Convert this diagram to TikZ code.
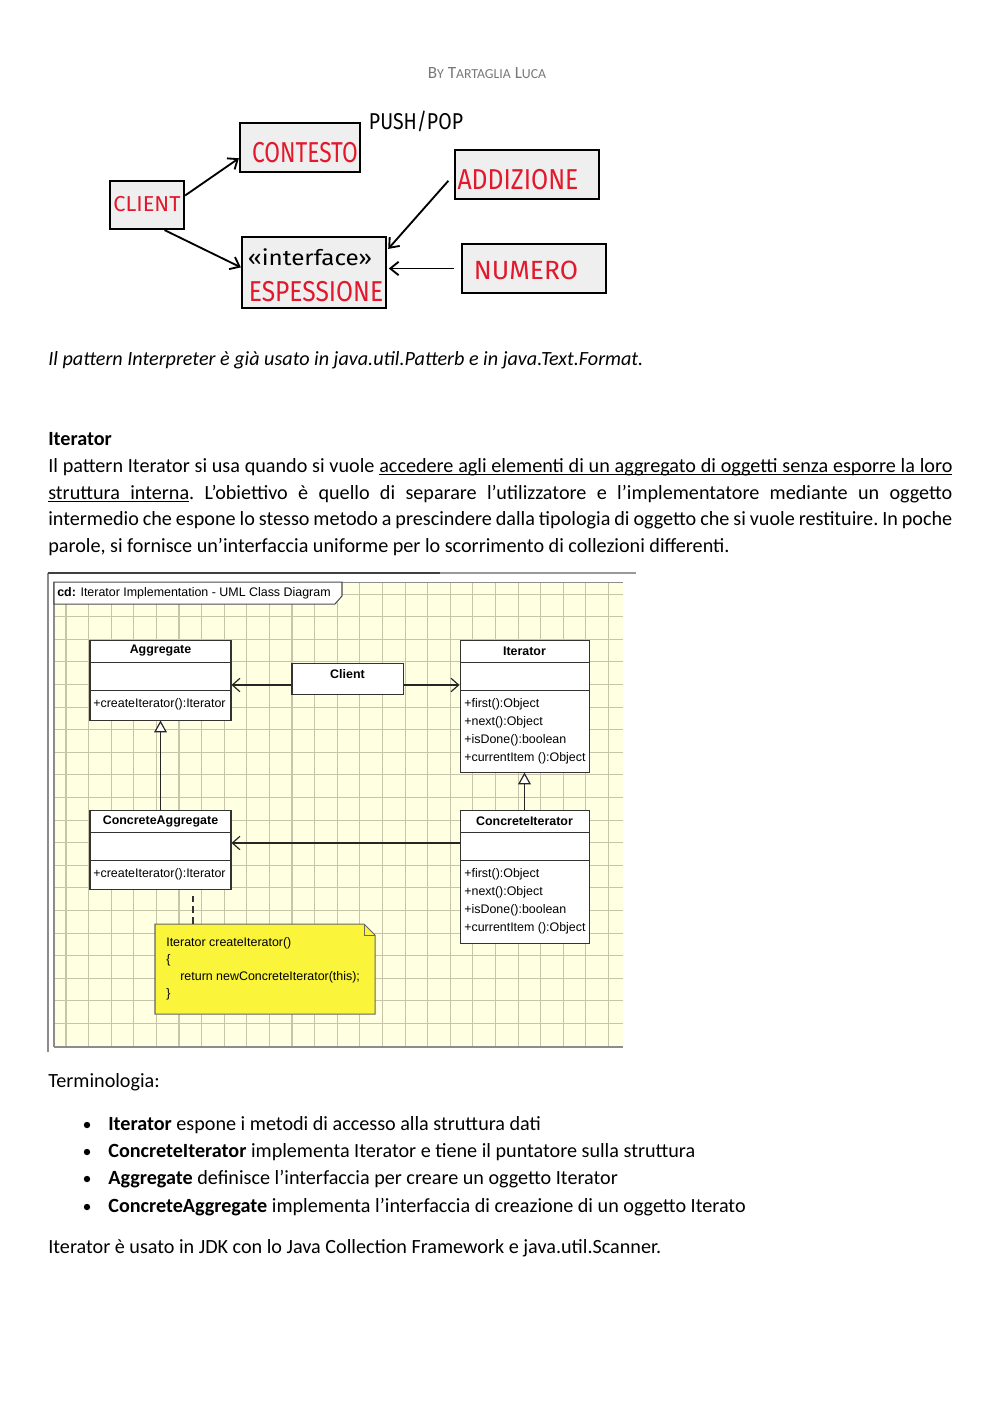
\documentclass[tikz,border=0pt]{standalone}
\usepackage{fontspec}
\setmainfont{Carlito}
\newfontfamily\umlfont{Liberation Sans}
\newfontfamily\handfont{Fira Sans}
\usetikzlibrary{arrows.meta,fit}
\definecolor{handred}{RGB}{226,24,44}
\definecolor{handfill}{RGB}{239,239,239}
\definecolor{headgray}{RGB}{120,120,120}
\definecolor{gridbg}{RGB}{255,255,226}
\definecolor{gridln}{RGB}{200,196,170}
\definecolor{noteyel}{RGB}{250,244,58}
\newcommand\myfsc[2]{{\fontsize{10.2}{11}\selectfont #1}{\fontsize{8.2}{9}\selectfont #2}}
\newsavebox\myulbox
\newcommand\ulw[1]{\sbox\myulbox{#1}\rlap{\vrule height -1.4pt depth 2.0pt width \wd\myulbox}\usebox\myulbox}
\newcommand\uls{\leaders\vrule height -1.4pt depth 2.0pt\hskip\fontdimen2\font plus\fontdimen3\font minus\fontdimen4\font\relax}
\tikzset{
  handbox/.style={draw=black, line width=1.3pt, fill=handfill, inner sep=0pt},
  handarrow/.style={line width=1.1pt, -{Straight Barb[length=5pt,width=8pt,line width=1.1pt]}},
  handtxt/.style={inner sep=0pt, font=\handfont, text=handred},
  bodytext/.style={inner sep=0pt, anchor=base west, font=\fontsize{12}{14}\selectfont\frenchspacing},
  umlbox/.style={draw=black!80, line width=0.6pt, fill=white, inner sep=0pt},
  umlline/.style={draw=black!80, line width=0.6pt},
  umlname/.style={inner sep=0pt, font=\umlfont\bfseries\fontsize{7.4}{8}\selectfont},
  umlmem/.style={inner sep=0pt, anchor=west, font=\umlfont\fontsize{7.4}{8}\selectfont},
  navarrow/.style={line width=0.7pt, draw=black!85, -{Straight Barb[length=4.5pt,width=8pt,line width=0.7pt]}},
  genarrow/.style={line width=0.7pt, draw=black!85, -{Triangle[open,length=7pt,width=7.5pt,line width=0.7pt,fill=white]}},
  gridline/.style={draw=gridln, line width=0.6pt},
}
\begin{document}
\begin{tikzpicture}[x=0.5953pt,y=-0.5953pt]
\useasboundingbox[fill=white] (0,0) rectangle (1000,1414);

% header
\node[inner sep=0pt, anchor=base, text=headgray, font=\fontsize{10.2}{11}\selectfont] (hdr) at (487,78) {\myfsc{B}{Y} \myfsc{T}{ARTAGLIA} \myfsc{L}{UCA}};

% ---------- hand-drawn diagram ----------
\node[handbox, fit={(110,181)(184,229)}] (hclient) {};
\node[handbox, fit={(240,123)(360,172)}] (hcont) {};
\node[handbox, fit={(455,150)(599,199)}] (hadd) {};
\node[handbox, fit={(242,237)(386,308)}] (hesp) {};
\node[handbox, fit={(462,244)(606,293)}] (hnum) {};

\node[handtxt] (tclient) at (147,204) {\resizebox{40pt}{9pt}{CLIENT}};
\node[handtxt] (tcont) at (305,153) {\resizebox{63pt}{12pt}{CONTESTO}};
\node[handtxt] (tadd) at (518,180) {\resizebox{72pt}{12pt}{ADDIZIONE}};
\node[handtxt] (tnum) at (526,270) {\resizebox{62pt}{11pt}{NUMERO}};
\node[handtxt] (tesp) at (316,292) {\resizebox{80pt}{12pt}{ESPESSIONE}};
\node[handtxt, text=black] (tint) at (310,257) {\resizebox{74pt}{10pt}{«interface»}};
\node[handtxt, text=black] (tpush) at (416,121) {\resizebox{56pt}{11pt}{PUSH/POP}};

\draw[handarrow] (hclient.14) -- (hcont.190);
\draw[handarrow] (hclient.-55) -- (hesp.176);
\draw[handarrow, shorten <=5pt, shorten >=1pt] (hadd.west) -- (hesp.17);
\draw[handarrow, shorten <=4pt, shorten >=1pt] (hnum.west) -- (hnum.west -| hesp.east);

% ---------- text ----------
\node[bodytext, font=\itshape\fontsize{12}{14}\selectfont] (interp) at (48,365) {Il pattern Interpreter è già usato in java.util.Patterb e in java.Text.Format.};
\node[bodytext, font=\bfseries\fontsize{12}{14}\selectfont] (ittitle) at (48,445) {Iterator};
\node[bodytext] (p1) at (48,472) {\hbox to 538.2pt{Il pattern Iterator si usa quando si vuole \ulw{accedere}\uls\ulw{agli}\uls\ulw{elementi}\uls\ulw{di}\uls\ulw{un}\uls\ulw{aggregato}\uls\ulw{di}\uls\ulw{oggetti}\uls\ulw{senza}\uls\ulw{esporre}\uls\ulw{la}\uls\ulw{loro}}};
\node[bodytext] (p2) at (48,499) {\hbox to 538.2pt{\ulw{struttura}\uls\ulw{interna}. L’obiettivo è quello di separare l’utilizzatore e l’implementatore mediante un oggetto}};
\node[bodytext] (p3) at (48,525) {\hbox to 538.2pt{intermedio che espone lo stesso metodo a prescindere dalla tipologia di oggetto che si vuole restituire. In poche}};
\node[bodytext] (p4) at (48,552) {parole, si fornisce un’interfaccia uniforme per lo scorrimento di collezioni differenti.};

% ---------- UML image ----------
\fill[gridbg] (54,582) rectangle (623,1047);
\foreach \i in {0,...,24} \draw[gridline] ({66+22.6*\i},582) -- ({66+22.6*\i},1047);
\foreach \j in {0,...,20} \draw[gridline] (54,{594+22.6*\j}) -- (623,{594+22.6*\j});
\draw[black!45, line width=0.6pt] (54,1047) -- (54,582) -- (623,582);
\draw[black!45, line width=0.8pt] (54,1047) -- (623,1047);
\draw[black!45, line width=1.3pt] (48,1052) -- (48,573);
\draw[black!75, line width=0.9pt] (48,573) -- (440,573);
\draw[black!40, line width=0.9pt] (440,573) -- (636,573);

\draw[fill=white, draw=black!70, line width=0.6pt] (54,582) -- (342,582) -- (342,596) -- (335,604) -- (54,604) -- cycle;
\node[inner sep=0pt, anchor=west, font=\umlfont\fontsize{7.4}{8}\selectfont] (cdlabel) at (57,593.5) {\textbf{cd:} Iterator Implementation - UML Class Diagram};

% classes
\node[umlbox, fit={(90,640)(231,720)}] (agg) {};
\draw[umlline] (90,662) -- (231,662) (90,690) -- (231,690);
\node[umlname] (aggname) at (160.5,651) {Aggregate};
\node[umlmem] (aggop) at (93,704.5) {+createIterator():Iterator};

\node[umlbox, fit={(292,663)(403,694)}] (client) {};
\node[umlname] (clientname) at (347.5,674) {Client};

\node[umlbox, fit={(460,640)(589,772)}] (iter) {};
\draw[umlline] (460,662) -- (589,662) (460,690) -- (589,690);
\node[umlname] (itername) at (524.5,651) {Iterator};
\node[umlmem] (iterop1) at (464,704.5) {+first():Object};
\node[umlmem] (iterop2) at (464,722.5) {+next():Object};
\node[umlmem] (iterop3) at (464,740.5) {+isDone():boolean};
\node[umlmem] (iterop4) at (464,758.5) {+currentItem ():Object};

\node[umlbox, fit={(90,810)(231,889)}] (cagg) {};
\draw[umlline] (90,832) -- (231,832) (90,860) -- (231,860);
\node[umlname] (caggname) at (160.5,821) {ConcreteAggregate};
\node[umlmem] (caggop) at (93,874.5) {+createIterator():Iterator};

\node[umlbox, fit={(460,810)(589,943)}] (citer) {};
\draw[umlline] (460,832) -- (589,832) (460,860) -- (589,860);
\node[umlname] (citername) at (524.5,821) {ConcreteIterator};
\node[umlmem] (citerop1) at (464,874.5) {+first():Object};
\node[umlmem] (citerop2) at (464,892.5) {+next():Object};
\node[umlmem] (citerop3) at (464,910.5) {+isDone():boolean};
\node[umlmem] (citerop4) at (464,928.5) {+currentItem ():Object};

% note
\node[inner sep=0pt, fit={(155,924)(375,1014)}] (note) {};
\draw[fill=noteyel, draw=black!60, line width=0.6pt] (155,924) -- (364,924) -- (375,935) -- (375,1014) -- (155,1014) -- cycle;
\draw[draw=black!60, line width=0.6pt] (364,924) -- (364,935) -- (375,935);
\node[umlmem] (n1) at (166,943) {Iterator createIterator()};
\node[umlmem] (n2) at (166,960) {\{};
\node[umlmem] (n3) at (180,977) {return newConcreteIterator(this);};
\node[umlmem] (n4) at (166,994) {\}};

% connectors
\coordinate (navy) at (0,685);
\coordinate (dashx) at (193,0);
\draw[navarrow] (client.west |- navy) -- (agg.east |- navy);
\draw[navarrow] (client.east |- navy) -- (iter.west |- navy);
\draw[genarrow] (cagg.north -| aggname) -- (agg.south -| aggname);
\draw[genarrow] (citer.north -| itername) -- (iter.south -| itername);
\coordinate (assy) at (0,843);
\draw[navarrow] (citer.west |- assy) -- (cagg.east |- assy);
\draw[black!80, line width=0.6pt, dash pattern=on 4pt off 2.5pt] (cagg.south -| dashx) ++(0,6) -- (note.north -| dashx);

% ---------- terminology ----------
\node[bodytext] (term) at (48,1087) {Terminologia:};
\foreach \yy/\nm in {1130/b1,1157/b2,1184/b3,1212/b4}
  \fill (87,\yy-5) circle (3.2);
\node[bodytext] (t1) at (108,1130) {\textbf{Iterator} espone i metodi di accesso alla struttura dati};
\node[bodytext] (t2) at (108,1157) {\textbf{ConcreteIterator} implementa Iterator e tiene il puntatore sulla struttura};
\node[bodytext] (t3) at (108,1184) {\textbf{Aggregate} definisce l’interfaccia per creare un oggetto Iterator};
\node[bodytext] (t4) at (108,1212) {\textbf{ConcreteAggregate} implementa l’interfaccia di creazione di un oggetto Iterato};
\node[bodytext] (last) at (48,1253) {Iterator è usato in JDK con lo Java Collection Framework e java.util.Scanner.};
\end{tikzpicture}
\end{document}
